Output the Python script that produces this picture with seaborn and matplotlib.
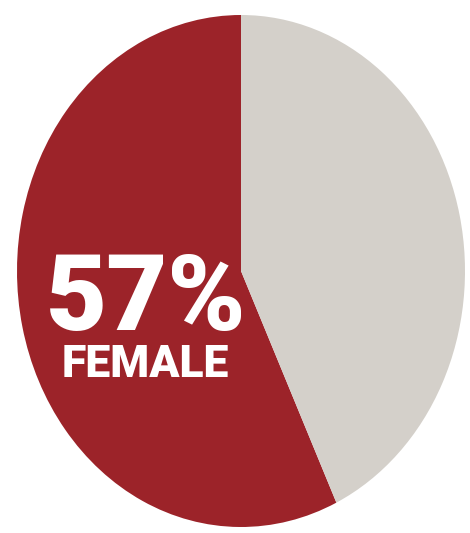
import matplotlib
matplotlib.use("Agg")
import matplotlib.pyplot as plt
import seaborn as sns

# Share of respondents by gender
categories = ["Female", "Male"]
shares = [57, 43]
label_value = "57%"
label_text = "FEMALE"

sns.set_theme(style="white")
plt.rcParams["font.family"] = ["Roboto", "DejaVu Sans"]

colors = ["#9c2329", "#d4d0ca"]

fig = plt.figure(figsize=(4.70, 5.33), dpi=100)
ax = fig.add_axes([17 / 470, 6 / 533, 448 / 470, 512 / 533])

ax.pie(shares, colors=colors, startangle=90, counterclock=True,
       radius=1.0, frame=False,
       wedgeprops=dict(linewidth=0, edgecolor="none"))
ax.set_aspect("auto")
ax.set_xlim(-1, 1)
ax.set_ylim(-1, 1)
ax.axis("off")

fig.text(146 / 470, 1 - 330 / 533, label_value, color="white",
         fontsize=76, fontweight="black", ha="center", va="baseline")
fig.text(145 / 470, 1 - 377 / 533, label_text, color="white",
         fontsize=32, fontweight="black", ha="center", va="baseline")

fig.savefig("out.png", dpi=100, facecolor="white")
